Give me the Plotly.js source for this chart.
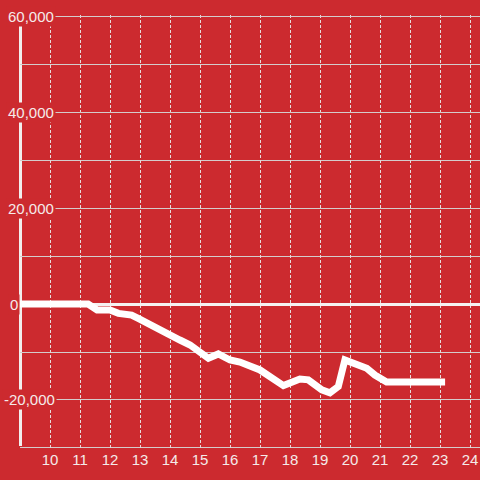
<!DOCTYPE html>
<html>
<head>
<meta charset="utf-8">
<script src="https://cdn.plot.ly/plotly-3.0.1.min.js"></script>
<style>
  html, body { margin: 0; padding: 0; background: #cc2a2f; }
  #chart { width: 480px; height: 480px; }
</style>
</head>
<body>
<div id="chart"></div>
<script>
// Data
const xValues = [9, 11.27, 11.57, 12.0, 12.28, 12.72, 12.94, 13.33, 13.78, 14.0, 14.33, 14.67, 15.0, 15.28, 15.61, 16.0, 16.33, 17.0, 17.78, 18.33, 18.61, 19.06, 19.33, 19.61, 19.83, 20.06, 20.56, 20.83, 21.22, 23.17];
const yValues = [0, 0, -1250, -1250, -1950, -2300, -3000, -4375, -5770, -6460, -7500, -8540, -9940, -11300, -10400, -11670, -12100, -13750, -17000, -15625, -15800, -17900, -18500, -17200, -11670, -12200, -13400, -14800, -16250, -16250];
const xTicks = [10, 11, 12, 13, 14, 15, 16, 17, 18, 19, 20, 21, 22, 23, 24];
const yTicks = [-20000, 0, 20000, 40000, 60000];

const BG = '#cc2a2f';
const TEXT = '#f5eaea';
const GRID = '#d4cccc';
const FONT = 'Liberation Sans, Arial, sans-serif';

// y axis line drawn as a shape so the tick label boxes can sit on top of it
const shapes = [{
  type: 'line', xref: 'paper', yref: 'y',
  x0: 0.5 / 460, x1: 0.5 / 460, y0: -29600, y1: 60000,
  line: { color: '#f2eeee', width: 3 }, layer: 'between'
}];

// y tick labels as boxed annotations (left-aligned, partly over the axis line)
const labelLeftPx = { '0': 8, '-20,000': 2 };
const annotations = yTicks.map(v => {
  const txt = v.toLocaleString('en-US');
  const px = (txt in labelLeftPx) ? labelLeftPx[txt] : 6;
  return {
    xref: 'paper', yref: 'y', x: (px - 20) / 460, y: v,
    xanchor: 'left', yanchor: 'middle', text: txt, showarrow: false,
    bgcolor: BG, borderpad: 1,
    font: { family: FONT, size: 15, color: TEXT }
  };
});

const trace = {
  x: xValues, y: yValues, type: 'scatter', mode: 'lines',
  line: { color: '#ffffff', width: 7 },
  hoverinfo: 'skip'
};

const layout = {
  width: 480, height: 480,
  paper_bgcolor: BG, plot_bgcolor: BG,
  margin: { l: 20, r: 0, t: 15, b: 31 },
  showlegend: false,
  font: { family: FONT, size: 15, color: TEXT },
  xaxis: {
    range: [9, 9 + 460 / 30],
    tickvals: xTicks,
    ticktext: xTicks.map(String),
    showgrid: true, gridcolor: '#e6dede', gridwidth: 1, griddash: '3px,2px',
    zeroline: false, showline: false, ticks: '',
    tickfont: { family: FONT, size: 15, color: TEXT }
  },
  yaxis: {
    range: [-30210, 60210],
    tickvals: yTicks,
    showticklabels: false,
    showgrid: true, gridcolor: GRID, gridwidth: 1,
    minor: { dtick: 10000, tick0: 0, showgrid: true, gridcolor: GRID, gridwidth: 1, ticks: '' },
    zeroline: true, zerolinecolor: '#f5f2f2', zerolinewidth: 3,
    showline: false, ticks: ''
  },
  shapes: shapes,
  annotations: annotations
};

Plotly.newPlot('chart', [trace], layout, { displayModeBar: false, staticPlot: true });
</script>
</body>
</html>
